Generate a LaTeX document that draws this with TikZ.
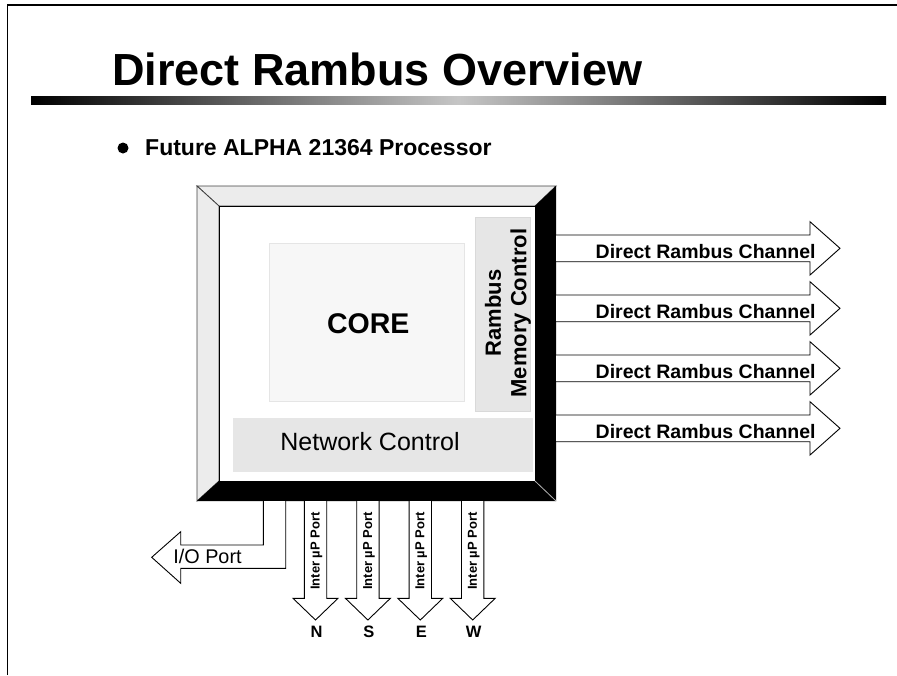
\documentclass[tikz,border=0pt]{standalone}
\usepackage{fontspec}
\setmainfont{Liberation Sans}

\definecolor{bevelLight}{HTML}{ECECEC}
\definecolor{blockGray}{HTML}{E6E6E6}
\definecolor{coreGray}{HTML}{F7F7F7}

\tikzstyle{slideTitle} = [anchor = base west, inner sep = 0pt,
                          font = \fontsize{45}{54}\selectfont\bfseries]
\tikzstyle{bulletText} = [anchor = base west, inner sep = 0pt,
                          font = \fontsize{23}{27}\selectfont\bfseries]
\tikzstyle{blockArrow} = [draw = black, fill = white, line width = 0.9pt]
\tikzstyle{chanText} = [anchor = base, inner sep = 0pt,
                        font = \fontsize{19.5}{23}\selectfont\bfseries]
\tikzstyle{portText} = [rotate = 90, inner sep = 0pt,
                        font = \fontsize{13}{15}\selectfont\bfseries]
\tikzstyle{dirText} = [anchor = base, inner sep = 0pt,
                       font = \fontsize{16.5}{19}\selectfont\bfseries]

\begin{document}
\begin{tikzpicture}[x = 1pt, y = -1pt]

    \useasboundingbox (0, 0) rectangle (897, 675);

    %%% Slide frame
    \draw[line width = 1.5pt] (7.5, 675) -- (7.5, 5) -- (897, 5);

    % Title %
    \node (T) at (112, 85.5) [slideTitle]{Direct Rambus Overview};
    \shade[left color = black, right color = black, middle color = gray!45]
        (31, 96) rectangle (886, 104);

    % Bullet %
    \fill (123, 148) circle (5.5);
    \node (B) at (145, 155) [bulletText]{Future ALPHA 21364 Processor};

    %%% Chip
    % Bevels
    \filldraw[fill = bevelLight, draw = darkgray, line width = 0.8pt]
        (197, 186) -- (556, 186) -- (535, 206) -- (219, 206) -- cycle;
    \filldraw[fill = bevelLight, draw = darkgray, line width = 0.8pt]
        (197, 186) -- (219, 206) -- (219, 481) -- (197, 501) -- cycle;
    \fill[black] (556, 186) -- (535, 206) -- (535, 481) -- (556, 501) -- cycle;
    \fill[black] (197, 501) -- (219, 481) -- (535, 481) -- (556, 501) -- cycle;
    \draw[gray!60, line width = 0.8pt] (535, 481) -- (556, 501);
    \draw[line width = 0.8pt] (219, 481) -- (219, 206) -- (535, 206);

        % Core
        \filldraw[fill = coreGray, draw = gray!20, line width = 0.6pt]
            (269, 243.3) rectangle (464, 401.7);
        \node (C) at (368.3, 333.3) [anchor = base, inner sep = 0pt,
            font = \fontsize{28.5}{34}\selectfont\bfseries]{CORE};

        % Memory control
        \filldraw[fill = blockGray, draw = gray!30, line width = 0.6pt]
            (475.7, 217.7) rectangle (530.7, 411.7);
        \node (M) at (508, 313) [rotate = 90, inner sep = 0pt, align = center,
            font = \fontsize{22}{25.5}\selectfont\bfseries]{Rambus\\Memory Control};

        % Network control
        \fill[blockGray] (233.3, 418.3) rectangle (533.3, 471.7);
        \node (NC) at (370, 450) [anchor = base, inner sep = 0pt,
            font = \fontsize{25}{30}\selectfont]{Network Control};

    %%% Ports
    % Rambus channels
    \foreach \k in {0, 1, 2, 3} {
        \pgfmathsetmacro{\yc}{248.3 + 60*\k}
        \draw[blockArrow] (556, \yc - 13.3) -- (810, \yc - 13.3) -- (810, \yc - 26.6)
            -- (840, \yc) -- (810, \yc + 26.7) -- (810, \yc + 13.4) -- (556, \yc + 13.4);
        \node (ch\k) at (705.7, \yc + 10) [chanText]{Direct Rambus Channel};
    }

    % I/O port
    \draw[blockArrow] (263.3, 501) -- (263.3, 545) -- (180.7, 545) -- (180.7, 531.7)
        -- (151.7, 557.3) -- (180.7, 583.3) -- (180.7, 568.3) -- (285.7, 568.3)
        -- (285.7, 501);
    \node (io) at (207.5, 563.3) [anchor = base, inner sep = 0pt,
        font = \fontsize{19.8}{23}\selectfont]{I/O Port};

    % Inter processor ports
    \foreach \k/\dir in {0/N, 1/S, 2/E, 3/W} {
        \pgfmathsetmacro{\xc}{315.5 + 52.4*\k}
        \draw[blockArrow] (\xc - 11.2, 501) -- (\xc - 11.2, 598.3) -- (\xc - 22.5, 598.3)
            -- (\xc, 620) -- (\xc + 22.5, 598.3) -- (\xc + 11.2, 598.3) -- (\xc + 11.2, 501);
        \node (ip\k) at (\xc + 1, 551) [portText]{Inter µP Port};
        \node (d\k) at (\xc + 1, 637.5) [dirText]{\dir};
    }

\end{tikzpicture}
\end{document}
